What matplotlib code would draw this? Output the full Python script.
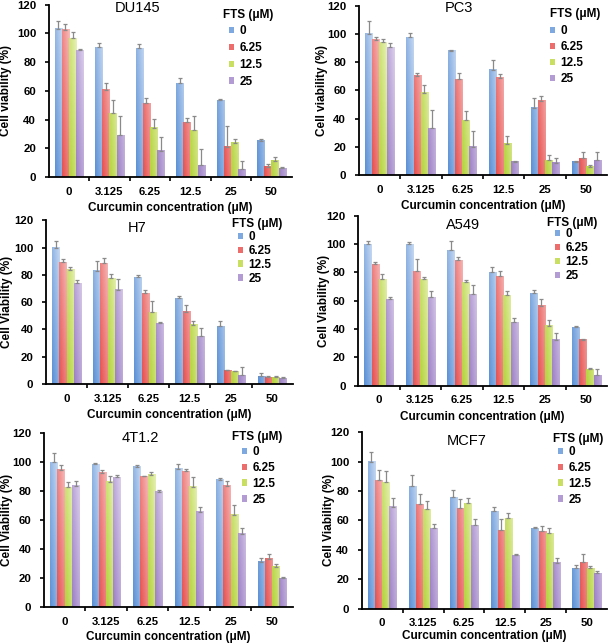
import numpy as np
import matplotlib
matplotlib.use("Agg")
import matplotlib.pyplot as plt
from matplotlib.colors import to_rgb

plt.rcParams['font.family'] = ['Liberation Sans', 'DejaVu Sans']

concentrations = ["0", "3.125", "6.25", "12.5", "25", "50"]
fts_levels = ["0", "6.25", "12.5", "25"]

# values[series][group]; tops = upper end of error bar
du145_vals = [[103.3, 90.2, 89.5, 65.1, 53.3, 25.1],
              [102.3, 60.9, 51.4, 38.1, 20.9, 7.0],
              [96.5, 44.4, 34.2, 32.6, 23.7, 11.2],
              [88.1, 29.0, 18.4, 8.1, 5.3, 6.0]]
du145_tops = [[108.8, 93.5, 92.8, 68.6, 54.4, 26.7],
              [106.3, 65.6, 55.3, 41.2, 35.6, 9.3],
              [101.0, 53.5, 40.5, 42.3, 26.3, 14.0],
              [89.3, 42.8, 27.9, 19.3, 10.9, 7.0]]

pc3_vals = [[100.0, 97.6, 88.2, 74.8, 47.8, 9.6],
            [95.8, 70.6, 67.8, 68.9, 52.9, 12.0],
            [94.1, 58.1, 38.8, 22.4, 10.6, 5.9],
            [90.6, 33.2, 20.0, 9.4, 8.9, 10.6]]
pc3_tops = [[109.0, 100.5, 88.7, 81.6, 54.6, 10.1],
            [98.1, 72.2, 72.7, 71.5, 55.8, 16.5],
            [96.2, 64.0, 45.6, 27.8, 14.1, 7.1],
            [93.4, 45.9, 31.1, 9.9, 12.5, 16.5]]

h7_vals = [[100.0, 83.1, 78.4, 63.0, 42.2, 5.4],
           [89.2, 88.7, 66.7, 52.9, 9.8, 5.1],
           [83.8, 77.7, 52.5, 43.4, 9.1, 5.1],
           [74.0, 69.1, 44.6, 34.8, 6.6, 4.4]]
h7_tops = [[104.7, 90.0, 80.1, 64.7, 46.3, 7.8],
           [91.7, 92.6, 69.1, 57.8, 10.3, 5.6],
           [85.8, 80.6, 61.0, 46.1, 9.6, 5.6],
           [76.5, 77.2, 45.1, 40.9, 12.7, 4.9]]

a549_vals = [[100.0, 100.2, 95.5, 80.0, 65.4, 41.4],
             [86.1, 80.7, 88.9, 77.2, 56.5, 32.5],
             [75.3, 75.3, 72.9, 64.2, 42.4, 11.8],
             [61.2, 62.6, 64.9, 44.7, 32.5, 7.3]]
a549_tops = [[101.9, 101.4, 101.9, 83.5, 67.5, 42.4],
             [87.3, 89.4, 90.6, 80.7, 61.2, 32.9],
             [78.8, 76.5, 74.4, 67.1, 46.6, 12.5],
             [62.6, 66.6, 70.8, 47.8, 37.2, 12.0]]

t412_vals = [[100.0, 98.6, 97.0, 95.7, 88.1, 31.6],
             [94.7, 92.7, 90.4, 93.8, 84.0, 33.2],
             [82.8, 86.3, 91.1, 83.1, 63.6, 27.9],
             [84.0, 89.7, 79.6, 65.7, 50.8, 19.9]]
t412_tops = [[106.6, 99.8, 98.4, 99.1, 89.2, 34.3],
             [97.9, 95.0, 90.8, 95.7, 87.0, 36.6],
             [86.7, 90.4, 93.4, 89.7, 70.9, 29.7],
             [87.0, 91.5, 81.2, 69.1, 54.5, 20.6]]

mcf7_vals = [[100.0, 83.2, 76.1, 66.4, 54.8, 27.5],
             [87.7, 70.9, 68.2, 53.7, 52.6, 31.5],
             [85.9, 67.8, 71.8, 61.3, 51.5, 27.5],
             [69.4, 54.8, 56.6, 36.7, 31.3, 24.2]]
mcf7_tops = [[106.7, 91.0, 80.8, 68.9, 55.5, 29.8],
             [94.4, 77.6, 74.3, 61.1, 56.4, 36.9],
             [93.3, 73.4, 74.9, 64.9, 55.0, 28.9],
             [74.9, 57.5, 60.9, 37.4, 34.5, 25.7]]

W, H = 609, 644
# name, ylabel, vals, tops, axes rect, title (px x-center, px top), ylabel x (axes frac),
# legend title (px x-left, y-center), legend entries (px x-left, px top), spacing, xlabel pad
panels = [
    ("DU145", "Cell viability (%)", du145_vals, du145_tops, [0.080, 0.725, 0.399, 0.268],
     (138, 1), -0.177, (223, 15), (229, 25), 0.42, 4),
    ("PC3", "Cell viability (%)", pc3_vals, pc3_tops, [0.589, 0.728, 0.408, 0.263],
     (459, 1), -0.149, (550, 14), (550, 25), 0.35, 4),
    ("H7", "Cell Viability (%)", h7_vals, h7_tops, [0.0755, 0.404, 0.405, 0.254],
     (137, 221), -0.158, (232, 224), (238, 231), 0.16, 4),
    ("A549", "Cell Viability (%)", a549_vals, a549_tops, [0.588, 0.401, 0.409, 0.264],
     (463, 218), -0.137, (547, 223), (555, 228), 0.18, 4),
    ("4T1.2", "Cell Viability (%)", t412_vals, t412_tops, [0.072, 0.057, 0.409, 0.270],
     (140, 431), -0.149, (232, 437), (242, 446), 0.33, 3),
    ("MCF7", "Cell Viability (%)", mcf7_vals, mcf7_tops, [0.594, 0.055, 0.403, 0.274],
     (467, 434), -0.135, (553, 439), (558, 446), 0.33, 1.5),
]

dark = ['#5a90d6', '#e6504e', '#b4d23a', '#9c80c4']
light = ['#cbdcf3', '#f7c0bf', '#eaf3bd', '#e2d7f0']
legend_col = ['#7ea9e0', '#ec6d6b', '#c8df62', '#b39cd3']

fig = plt.figure(figsize=(6.09, 6.44), dpi=100)

nx, ny = 12, 60
for (name, ylab, vals, tops, pos, tpos, ylx, ltitle, lentry, lspace, xpad) in panels:
    ax = fig.add_axes(pos)
    n = len(concentrations)
    x = np.arange(n)
    w = 0.175
    for s in range(4):
        v = np.array(vals[s])
        t = np.array(tops[s])
        xs = x + (s - 1.5) * w
        bars = ax.bar(xs, v, width=w, color=legend_col[s], edgecolor='none',
                      label=fts_levels[s], zorder=2)
        d = np.array(to_rgb(dark[s]))
        l = np.array(to_rgb(light[s]))
        for b in bars:
            x0, bw, h = b.get_x(), b.get_width(), b.get_height()
            yy = np.linspace(h, 0, ny)[:, None] / 110.0
            xx = np.linspace(0, 1, nx)[None, :]
            tt = np.clip(0.55 * yy + 0.45 * xx, 0, 1)
            img = d[None, None, :] + (l - d)[None, None, :] * tt[:, :, None]
            ax.imshow(img, extent=(x0, x0 + bw, 0, h), aspect='auto',
                      interpolation='bilinear', zorder=2.5, origin='upper')
        ax.errorbar(xs, v, yerr=[np.zeros(n), t - v], fmt='none',
                    ecolor='#8a8a8a', elinewidth=0.9, capsize=1.6,
                    capthick=0.9, zorder=3)
    ax.set_xlim(-0.5, n - 0.5)
    ax.set_ylim(0, 120)
    ax.set_yticks(np.arange(0, 121, 20))
    ax.set_xticks(x)
    ax.set_xticklabels(concentrations)
    ax.set_xticks(np.arange(0.5, n - 0.5, 1), minor=True)
    ax.tick_params(axis='x', which='major', length=0, pad=7)
    ax.tick_params(axis='x', which='minor', length=3, width=1.2, direction='out')
    ax.tick_params(axis='y', length=3, width=1.2, direction='out', pad=6)
    for lab in ax.get_xticklabels() + ax.get_yticklabels():
        lab.set_fontsize(8.2)
        lab.set_fontweight('bold')
    for sp in ['top', 'right']:
        ax.spines[sp].set_visible(False)
    for sp in ['left', 'bottom']:
        ax.spines[sp].set_linewidth(1.3)
    ax.set_xlabel("Curcumin concentration (\u03bcM)", fontsize=8.5,
                  fontweight='bold', labelpad=xpad)
    ax.set_ylabel(ylab, fontsize=8.5, fontweight='bold')
    ax.yaxis.set_label_coords(ylx, 0.5)
    ax.yaxis.label.set_va('center')
    fig.text(tpos[0] / W, 1 - tpos[1] / H, name, ha='center', va='top',
             fontsize=10.5)
    fig.text(ltitle[0] / W, 1 - ltitle[1] / H, "FTS (\u03bcM)", ha='left',
             va='center', fontsize=8.5, fontweight='bold')
    ax.legend(loc='upper left',
              bbox_to_anchor=(lentry[0] / W, 1 - lentry[1] / H),
              bbox_transform=fig.transFigure, frameon=False,
              handlelength=0.45, handleheight=0.45, handletextpad=0.45,
              labelspacing=lspace, borderpad=0.0, borderaxespad=0.0,
              prop={'weight': 'bold', 'size': 8.5})

fig.savefig("out.png", dpi=100)
